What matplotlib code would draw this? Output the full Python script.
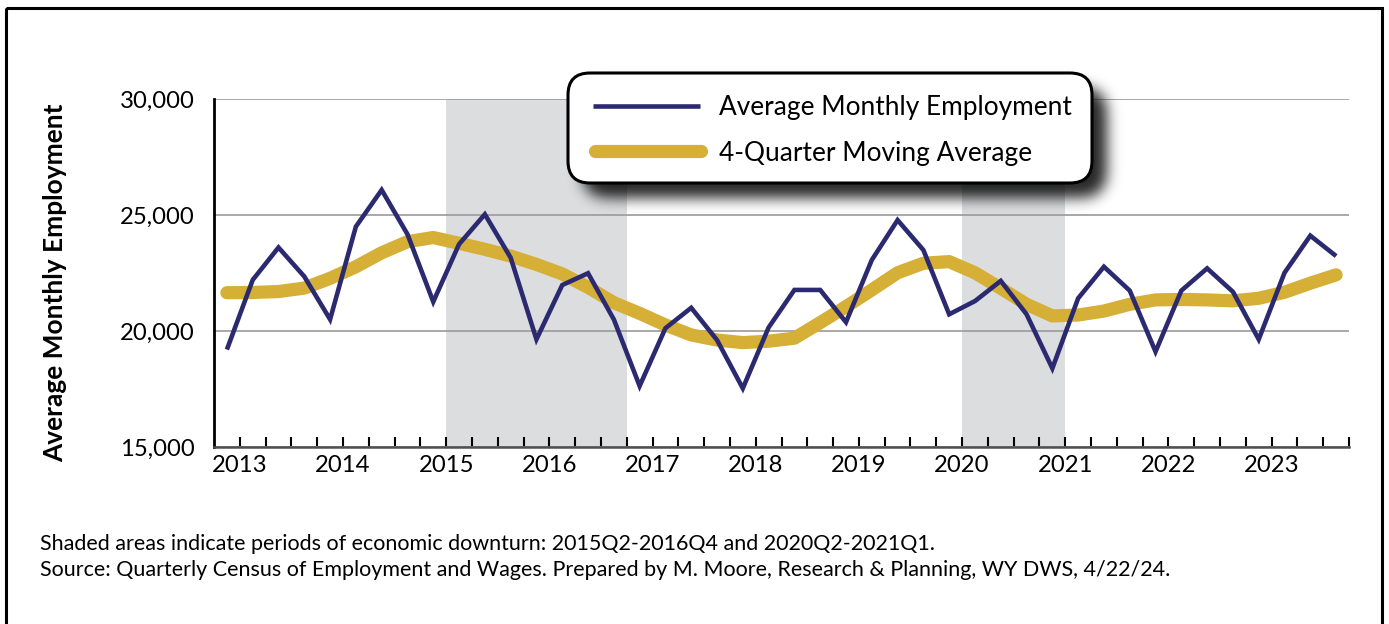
import numpy as np
import matplotlib
matplotlib.use("Agg")
import matplotlib.pyplot as plt
from matplotlib.patches import FancyBboxPatch, Rectangle
from matplotlib.lines import Line2D
from matplotlib.transforms import Affine2D

# ---------------- data ----------------
years = [str(y) for y in range(2013, 2024)]
quarters = [f"{y}Q{q}" for y in range(2013, 2024) for q in range(1, 5)]
employment = [19200, 22200, 23600, 22350, 20500, 24500, 26080, 24170,
              21260, 23740, 25030, 23160, 19640, 21980, 22490, 20500,
              17630, 20120, 21000, 19610, 17530, 20150, 21770, 21770,
              20380, 23060, 24780, 23490, 20720, 21290, 22160, 20720,
              18390, 21410, 22770, 21740, 19110, 21740, 22700, 21690,
              19640, 22510, 24110, 23230]
moving_avg = [21650, 21660, 21700, 21850, 22270, 22770, 23370, 23850,
              24030, 23780, 23520, 23230, 22870, 22460, 21880, 21220,
              20760, 20260, 19830, 19610, 19500, 19560, 19690, 20360,
              21050, 21770, 22510, 22920, 22990, 22510, 21840, 21150,
              20650, 20690, 20860, 21150, 21340, 21360, 21340, 21300,
              21410, 21670, 22060, 22420]
downturns = [("2015Q2", "2016Q4"), ("2020Q2", "2021Q1")]
y_ticks = [15000, 20000, 25000, 30000]
series_labels = ["Average Monthly Employment", "4-Quarter Moving Average"]
y_label = "Average Monthly Employment"
footer_lines = [
    "Shaded areas indicate periods of economic downturn: 2015Q2-2016Q4 and 2020Q2-2021Q1.",
    "Source: Quarterly Census of Employment and Wages. Prepared by M. Moore, Research & Planning, WY DWS, 4/22/24.",
]

NAVY = "#2B2A70"
GOLD = "#D6AF37"
SHADE = "#DCDDDF"

plt.rcParams['font.family'] = ['Lato', 'DejaVu Sans']

W, H = 1389, 624
fig = plt.figure(figsize=(W / 100, H / 100), dpi=100)
# pixel transform: image pixel coords (origin top-left)
pxT = Affine2D().scale(1, -1).translate(0, H).scale(1 / 100) + fig.dpi_scale_trans

ax = fig.add_axes([214 / W, 1 - 447 / H, (1349 - 214) / W, (447 - 99) / H])
x = np.arange(len(quarters))

for start, end in downturns:
    ax.axvspan(quarters.index(start) - 0.5, quarters.index(end) + 0.5,
               color=SHADE, lw=0, zorder=0)

ax.plot(x, moving_avg, color=GOLD, lw=9.5, solid_capstyle='round',
        solid_joinstyle='round', zorder=3)
ax.plot(x, employment, color=NAVY, lw=3.3, solid_capstyle='butt',
        solid_joinstyle='miter', zorder=4)

ax.set_xlim(-0.5, len(quarters) - 0.5)
ax.set_ylim(15000, 30000)
ax.set_yticks(y_ticks)
ax.set_yticklabels([f"{v:,}" for v in y_ticks])
ax.yaxis.grid(True, color='#9A9A9A', lw=1.2)
ax.set_axisbelow(True)

xt = np.arange(0.5, len(quarters) - 0.5 + 0.01, 1.0)
ax.set_xticks(xt)
ax.set_xticklabels([years[i // 4] if i % 4 == 0 else '' for i in range(len(xt))])
ax.tick_params(axis='x', direction='in', length=7, width=1.5, color='black',
               pad=6, labelsize=17.2)
ax.tick_params(axis='y', length=0, pad=14, labelsize=17.2)

for s in ['top', 'right']:
    ax.spines[s].set_visible(False)
ax.spines['left'].set_color('black')
ax.spines['left'].set_linewidth(2)
ax.spines['bottom'].set_color('#505050')
ax.spines['bottom'].set_linewidth(1.8)
ax.set_facecolor('none')

# y label
fig.text(55, 283, y_label, transform=pxT, rotation=90, fontweight='bold',
         fontsize=18.9, ha='center', va='center')

# footer
fig.text(40, 544, footer_lines[0], transform=pxT, fontsize=15.5, va='center')
fig.text(40, 570, footer_lines[1], transform=pxT, fontsize=15.5, va='center')

# outer border
fig.add_artist(Rectangle((6, 8), 1376, 640, transform=pxT, fill=False,
                         ec='black', lw=2.2, clip_on=False))

# legend with blurred shadow
bx0, by0, bx1, by1 = 568, 73, 1092, 183
rad = 22
dx, dy, padp, sig = 14, 14, 40, 7.0
gx0, gy0 = bx0 + dx - padp, by0 + dy - padp
gw, gh = (bx1 - bx0) + 2 * padp, (by1 - by0) + 2 * padp
yy, xx = np.mgrid[0:gh, 0:gw]
cx = (bx0 + bx1) / 2 + dx - gx0
cy = (by0 + by1) / 2 + dy - gy0
hw, hh = (bx1 - bx0) / 2, (by1 - by0) / 2
qx = np.maximum(np.abs(xx - cx) - (hw - rad), 0)
qy = np.maximum(np.abs(yy - cy) - (hh - rad), 0)
mask = (np.sqrt(qx ** 2 + qy ** 2) <= rad).astype(float)
r = int(3 * sig)
k = np.exp(-0.5 * (np.arange(-r, r + 1) / sig) ** 2)
k /= k.sum()
mask = np.apply_along_axis(lambda v: np.convolve(v, k, mode='same'), 0, mask)
mask = np.apply_along_axis(lambda v: np.convolve(v, k, mode='same'), 1, mask)
shadow = np.zeros((gh, gw, 4))
shadow[..., 3] = 0.85 * mask
fig.figimage(shadow, xo=gx0, yo=H - (gy0 + gh), origin='upper', zorder=5)

box = FancyBboxPatch((bx0, by0), bx1 - bx0, by1 - by0,
                     boxstyle=f"round,pad=0,rounding_size={rad}",
                     transform=pxT, fc='white', ec='black', lw=2.2, zorder=6)
fig.add_artist(box)
fig.add_artist(Line2D([593, 700], [106, 106], transform=pxT, color=NAVY,
                      lw=3.3, solid_capstyle='butt', zorder=7))
fig.add_artist(Line2D([595, 701], [151, 151], transform=pxT, color=GOLD,
                      lw=9.5, solid_capstyle='round', zorder=7))
fig.text(719, 108, series_labels[0], transform=pxT, fontsize=18.9,
         va='center', zorder=8)
fig.text(719, 153, series_labels[1], transform=pxT, fontsize=18.9,
         va='center', zorder=8)

fig.savefig('out.png', dpi=100)
